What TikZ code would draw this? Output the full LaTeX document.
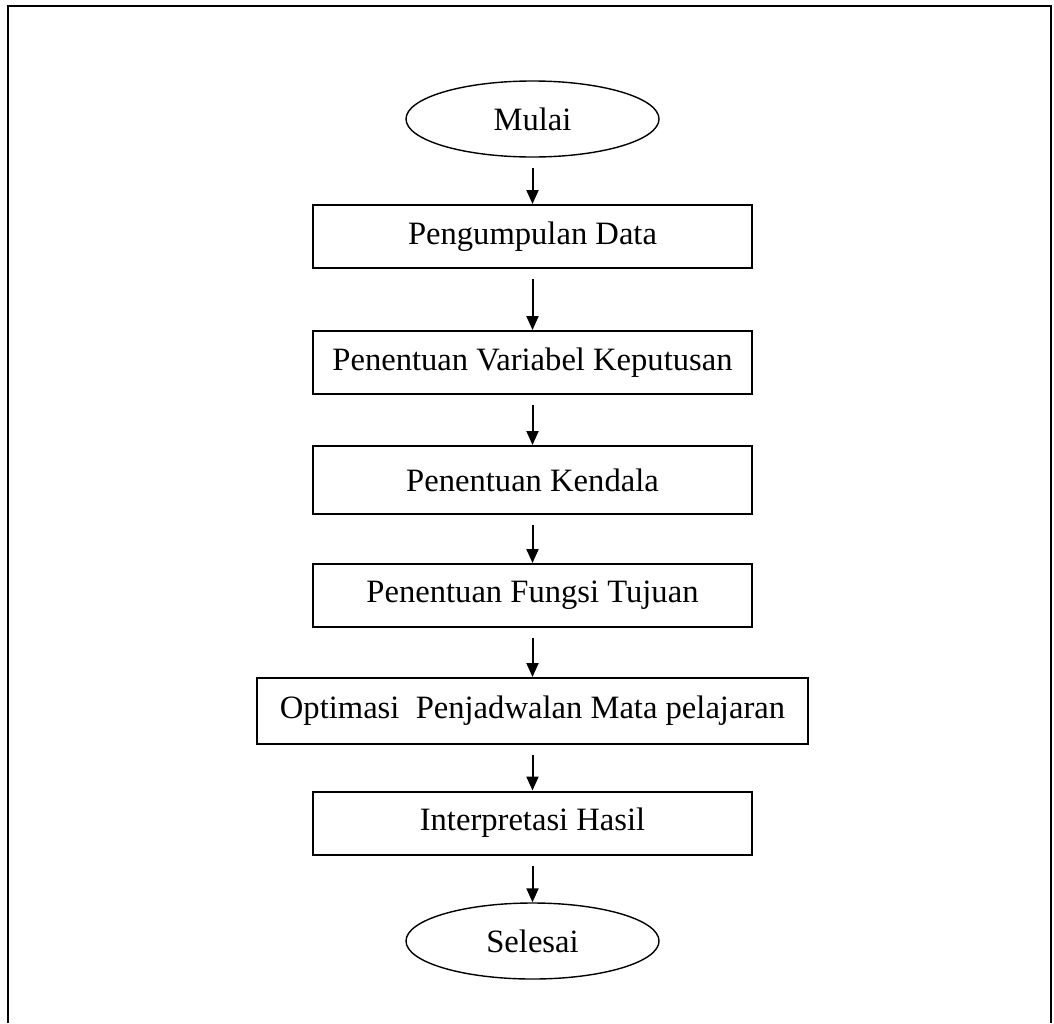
\documentclass[tikz,border=0pt]{standalone}
\usepackage{fontspec}
\setmainfont{Liberation Serif}
\usetikzlibrary{arrows.meta,shapes.geometric}

\begin{document}
\begin{tikzpicture}[x=0.5pt,y=-0.5pt,
  proses/.style={draw, line width=1pt, minimum width=219.5pt, minimum height=31.5pt, inner sep=0pt, font=\fontsize{16.3}{19}\selectfont},
  terminal/.style={draw, ellipse, line width=0.7pt, minimum width=126.5pt, minimum height=38pt, inner sep=0pt, font=\fontsize{16.3}{19}\selectfont},
  panah/.style={-{Triangle[length=7pt,width=6pt]}, line width=1pt, shorten <=5pt}]
\useasboundingbox (0,0) rectangle (1054,1023);
\draw[line width=1.3pt] (8,1023) -- (8,6) -- (1051,6) -- (1051,1023);

\node[terminal] (mulai) at (532.5,119) {Mulai};
\node[proses] (data) at (532.5,236.5) {Pengumpulan Data};
\node[proses] (variabel) at (532.5,362.5) {Penentuan Variabel Keputusan};
\node[proses, minimum height=34pt] (kendala) at (532.5,480) {Penentuan Kendala};
\node[proses] (fungsi) at (532.5,595.5) {Penentuan Fungsi Tujuan};
\node[proses, minimum width=275.5pt, minimum height=33pt] (optimasi) at (532.5,711) {Optimasi\ \ Penjadwalan Mata pelajaran};
\node[proses] (hasil) at (532.5,823) {Interpretasi Hasil};
\node[terminal] (selesai) at (532.5,941) {Selesai};

\draw[panah] (mulai) -- (data);
\draw[panah] (data) -- (variabel);
\draw[panah] (variabel) -- (kendala);
\draw[panah] (kendala) -- (fungsi);
\draw[panah] (fungsi) -- (optimasi);
\draw[panah] (optimasi) -- (hasil);
\draw[panah] (hasil) -- (selesai);
\end{tikzpicture}
\end{document}
